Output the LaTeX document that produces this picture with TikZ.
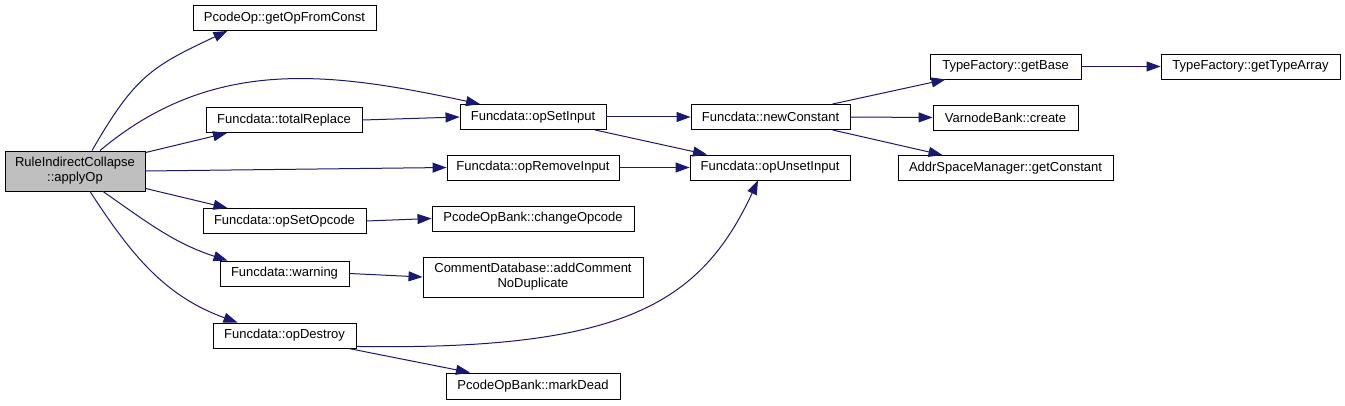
\documentclass[tikz,border=0pt]{standalone}
\usepackage{fontspec}
\setmainfont{Liberation Sans}
\usepackage{xcolor}
\usepackage{tikz}
\usetikzlibrary{positioning,arrows.meta,calc}

\definecolor{edgeblue}{HTML}{191970}
\definecolor{rootgray}{HTML}{BFBFBF}
\newcommand{\fnfont}{\fontsize{13}{15}\selectfont}

\begin{document}
\begin{tikzpicture}[x=1pt,y=1pt,
    fn/.style={draw=black, fill=white, line width=0.9pt, minimum height=25pt, inner sep=0pt, font=\fnfont},
    call/.style={-{Triangle[length=14pt,width=10pt]}, draw=edgeblue, fill=none, line width=1pt}]
        \useasboundingbox (0,0) rectangle (1345,405);

        % Functions
        \node[fn, fill=rootgray, minimum width=140pt, minimum height=40pt, align=center] (root) at (75,234) {RuleIndirectCollapse\\::applyOp};
        \node[fn, minimum width=183pt] (getop) at (284.5,387) {PcodeOp::getOpFromConst};
        \node[fn, minimum width=156pt] (replace) at (284,285) {Funcdata::totalReplace};
        \node[fn, minimum width=163pt] (setopc) at (284.5,184) {Funcdata::opSetOpcode};
        \node[fn, minimum width=129pt] (warn) at (284.5,131.5) {Funcdata::warning};
        \node[fn, minimum width=143pt] (destroy) at (284.5,69.5) {Funcdata::opDestroy};
        \node[fn, minimum width=146pt] (setin) at (533,288) {Funcdata::opSetInput};
        \node[fn, minimum width=172pt] (remin) at (533,237.5) {Funcdata::opRemoveInput};
        \node[fn, minimum width=202pt] (chgopc) at (533,186.5) {PcodeOpBank::changeOpcode};
        \node[fn, minimum width=220pt, minimum height=40pt, align=center] (addcom) at (533,128) {CommentDatabase::addComment\\NoDuplicate};
        \node[fn, minimum width=174pt, minimum height=26pt] (dead) at (533,19) {PcodeOpBank::markDead};
        \node[fn, minimum width=159pt] (newconst) at (770.5,288) {Funcdata::newConstant};
        \node[fn, minimum width=160pt] (unset) at (770,237.5) {Funcdata::opUnsetInput};
        \node[fn, minimum width=151pt] (getbase) at (1005.5,338.5) {TypeFactory::getBase};
        \node[fn, minimum width=145pt] (create) at (1005.5,287.5) {VarnodeBank::create};
        \node[fn, minimum width=215pt] (getconst) at (1005.5,237) {AddrSpaceManager::getConstant};
        \node[fn, minimum width=179pt] (typearr) at (1250.5,338.5) {TypeFactory::getTypeArray};

        % Calls
        \draw[call] ([xshift=17pt]root.north) to[out=60,in=205,looseness=1.2] ([xshift=-57pt]getop.south);
        \draw[call] ([xshift=25pt]root.north) to[out=40,in=168] ([xshift=-53pt]setin.north);
        \draw[call] ([yshift=-2pt]root.north east) -- ([xshift=-57pt]replace.south);
        \draw[call] (root.east) -- (remin.west);
        \draw[call] ([yshift=3pt]root.south east) -- ([xshift=-57pt]setopc.north);
        \draw[call] ([xshift=28pt]root.south) to[out=-35,in=162] ([xshift=-57pt]warn.north);
        \draw[call] ([xshift=15pt]root.south) to[out=-57,in=160] ([xshift=-47pt]destroy.north);
        \draw[call] (replace.east) -- (setin.west);
        \draw[call] (setin.east) -- (newconst.west);
        \draw[call] ([xshift=62pt]setin.south) -- ([xshift=-63pt]unset.north);
        \draw[call] (remin.east) -- (unset.west);
        \draw[call] (setopc.east) -- (chgopc.west);
        \draw[call] (warn.east) -- (addcom.west);
        \draw[call] ([yshift=2pt]destroy.south east) .. controls +(264,-4) and +(-58,-125) .. ([xshift=-12pt]unset.south);
        \draw[call] ([xshift=64pt]destroy.south) -- ([xshift=-63pt]dead.north);
        \draw[call] ([xshift=62pt]newconst.north) -- ([xshift=-60pt]getbase.south);
        \draw[call] (newconst.east) -- (create.west);
        \draw[call] ([xshift=62pt]newconst.south) -- ([xshift=-63pt]getconst.north);
        \draw[call] (getbase.east) -- (typearr.west);
    \end{tikzpicture}
\end{document}
